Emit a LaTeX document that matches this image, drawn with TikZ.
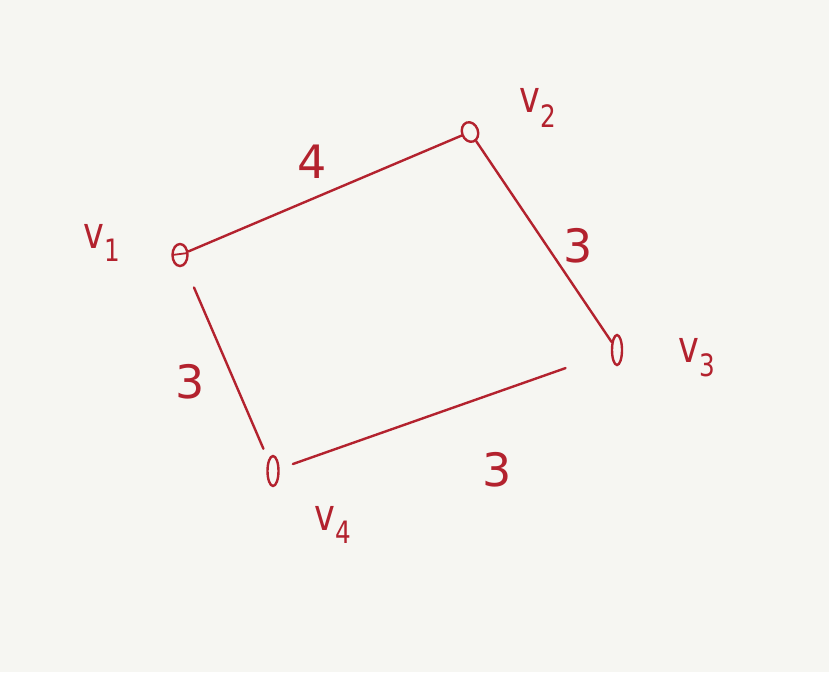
\documentclass[tikz,border=0pt]{standalone}
\usepackage{fontspec}
\setmainfont{DejaVu Sans}
\usetikzlibrary{shapes.geometric}
\definecolor{inkred}{HTML}{B3222E}
\definecolor{paper}{HTML}{F6F6F2}
\begin{document}
\begin{tikzpicture}[x=1pt,y=-1pt,
  ink/.style={draw=inkred, line width=2.4pt, line cap=round},
  vtx/.style={ellipse, draw=inkred, line width=2.4pt, inner sep=0pt},
  lab/.style={text=inkred, font=\fontsize{44}{44}\selectfont\addfontfeatures{FakeStretch=0.8}},
  num/.style={text=inkred, font=\fontsize{46}{46}\selectfont}]
\fill[paper] (0,0) rectangle (829,672);
\useasboundingbox (0,0) rectangle (829,672);
\node[vtx, minimum width=15pt, minimum height=22pt] (v1) at (180,255) {};
\node[vtx, minimum width=16pt, minimum height=20pt, rotate=20] (v2) at (470,132) {};
\node[vtx, minimum width=10pt, minimum height=30pt] (v3) at (617,350) {};
\node[vtx, minimum width=11pt, minimum height=30pt] (v4) at (273,471) {};
\draw[inkred, line width=1.8pt] (172,255) -- (188,253);
\draw[ink] (v1) -- (v2);
\draw[ink] (v2) -- (v3);
\draw[ink, shorten <=48pt, shorten >=14pt] (v3) -- (v4);
\draw[ink, shorten <=24pt, shorten >=12pt] (v1) -- (v4);
\node[lab] (l1) at (102,243) {v\textsubscript{1}};
\node[lab] (l2) at (538,108) {v\textsubscript{2}};
\node[lab] (l3) at (697,358) {v\textsubscript{3}};
\node[lab] (l4) at (333,525) {v\textsubscript{4}};
\node[num] (w12) at (312,162) {4};
\node[num] (w23) at (578,246) {3};
\node[num] (w14) at (190,382) {3};
\node[num] (w34) at (497,470) {3};
\end{tikzpicture}
\end{document}
